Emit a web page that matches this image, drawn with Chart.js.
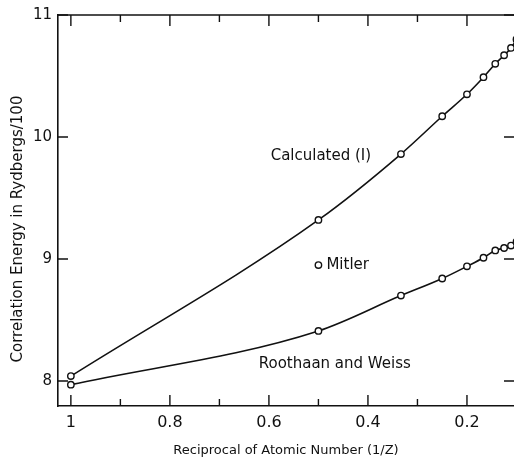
<!DOCTYPE html>
<html>
<head>
<meta charset="utf-8">
<script src="https://cdn.jsdelivr.net/npm/chart.js@4.4.1/dist/chart.umd.min.js"></script>
<style>
html, body { margin: 0; padding: 0; background: #fff; overflow: hidden; }
#wrap { width: 514px; height: 458px; }
</style>
</head>
<body>
<div id="wrap"><canvas id="chart"></canvas></div>
<script>
// data
const recipZ = [1, 1/2, 1/3, 1/4, 1/5, 1/6, 1/7, 1/8, 1/9, 1/10];
const calculated = [8.04, 9.32, 9.86, 10.17, 10.35, 10.49, 10.60, 10.67, 10.73, 10.80];
const roothaanWeiss = [7.97, 8.41, 8.70, 8.84, 8.94, 9.01, 9.07, 9.09, 9.11, 9.14];
const mitlerX = [0.5];
const mitlerY = [8.95];

const xTicks = [1, 0.8, 0.6, 0.4, 0.2];
const xMinorTicks = [0.9, 0.7, 0.5, 0.3];
const yTicks = [8, 9, 10, 11];

const FONT = "'DejaVu Sans', sans-serif";
const INK = "#111";

const toPoints = (xs, ys) => xs.map((x, i) => ({ x: x, y: ys[i] }));

const lineStyle = {
    borderColor: INK,
    borderWidth: 1.6,
    pointRadius: 3.2,
    pointBorderWidth: 1.4,
    pointBackgroundColor: "#fff",
    pointBorderColor: INK,
    cubicInterpolationMode: "monotone",
    showLine: true
};

// frame, inward ticks and the curve labels
const framePlugin = {
    id: "frame",
    afterDraw(c) {
        const ctx = c.ctx;
        const a = c.chartArea;
        const xs = c.scales.x, ys = c.scales.y;
        ctx.save();
        ctx.strokeStyle = INK;
        ctx.lineWidth = 1.6;
        ctx.beginPath();
        ctx.moveTo(a.left, a.top); ctx.lineTo(a.right, a.top);
        ctx.stroke();

        ctx.lineWidth = 1.4;
        ctx.beginPath();
        xTicks.forEach(v => {
            const px = xs.getPixelForValue(v);
            ctx.moveTo(px, a.bottom); ctx.lineTo(px, a.bottom - 11);
            ctx.moveTo(px, a.top); ctx.lineTo(px, a.top + 11);
        });
        xMinorTicks.forEach(v => {
            const px = xs.getPixelForValue(v);
            ctx.moveTo(px, a.bottom); ctx.lineTo(px, a.bottom - 7);
            ctx.moveTo(px, a.top); ctx.lineTo(px, a.top + 7);
        });
        yTicks.forEach(v => {
            const py = ys.getPixelForValue(v);
            ctx.moveTo(a.left, py); ctx.lineTo(a.left + 10, py);
            ctx.moveTo(a.right, py); ctx.lineTo(a.right - 10, py);
        });
        ctx.stroke();

        ctx.fillStyle = INK;
        ctx.font = "15px " + FONT;
        ctx.textBaseline = "middle";
        ctx.textAlign = "center";
        ctx.fillText("Calculated (I)", xs.getPixelForValue(0.495), ys.getPixelForValue(9.84));
        ctx.fillText("Roothaan and Weiss", xs.getPixelForValue(0.467), ys.getPixelForValue(8.14));
        ctx.textAlign = "left";
        ctx.fillText("Mitler", xs.getPixelForValue(0.5) + 8, ys.getPixelForValue(8.95));

        // y axis title
        ctx.translate(18, 229);
        ctx.rotate(-Math.PI / 2);
        ctx.textAlign = "center";
        ctx.fillText("Correlation Energy in Rydbergs/100", 0, 0);
        ctx.restore();
    }
};

new Chart(document.getElementById("chart"), {
    type: "scatter",
    data: {
        datasets: [
            Object.assign({ label: "Calculated (I)", data: toPoints(recipZ, calculated) }, lineStyle),
            Object.assign({ label: "Roothaan and Weiss", data: toPoints(recipZ, roothaanWeiss) }, lineStyle),
            Object.assign({ label: "Mitler", data: toPoints(mitlerX, mitlerY) }, lineStyle, { showLine: false })
        ]
    },
    options: {
        responsive: true,
        maintainAspectRatio: false,
        animation: false,
        layout: { autoPadding: false, padding: { top: 14, right: 0, left: 0, bottom: 0 } },
        plugins: {
            legend: { display: false },
            tooltip: { enabled: false }
        },
        scales: {
            x: {
                type: "linear",
                reverse: true,
                min: 0.105,
                max: 1.026,
                afterBuildTicks: s => { s.ticks = xTicks.map(v => ({ value: v })); },
                afterFit: s => { s.height = 52; s.paddingRight = 0; s.paddingLeft = 0; },
                grid: { display: false, drawTicks: false },
                border: { display: true, color: INK, width: 1.6 },
                ticks: {
                    color: INK,
                    padding: 7,
                    font: { family: FONT, size: 16 },
                    maxRotation: 0,
                    callback: v => v === 1 ? "1" : v.toFixed(1)
                },
                title: {
                    display: true,
                    text: "Reciprocal of Atomic Number (1/Z)",
                    color: INK,
                    font: { family: FONT, size: 13 },
                    padding: { top: 7, bottom: 0 }
                }
            },
            y: {
                type: "linear",
                min: 7.795,
                max: 11,
                afterBuildTicks: s => { s.ticks = yTicks.map(v => ({ value: v })); },
                afterFit: s => { s.width = 58; },
                grid: { display: false, drawTicks: false },
                border: { display: true, color: INK, width: 1.6 },
                ticks: {
                    color: INK,
                    padding: 6,
                    font: { family: FONT, size: 15 }
                }
            }
        }
    },
    plugins: [framePlugin]
});
</script>
</body>
</html>
